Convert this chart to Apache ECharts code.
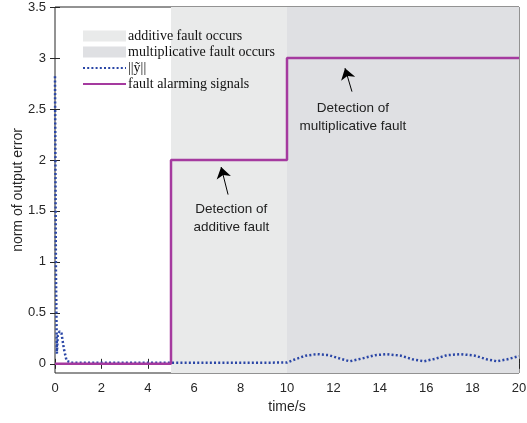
<!DOCTYPE html>
<html>
<head>
<meta charset="utf-8">
<script src="https://cdn.jsdelivr.net/npm/echarts@6/dist/echarts.min.js"></script>
<style>
  html, body { margin: 0; padding: 0; background: #fff; }
  #chart { width: 527px; height: 423px; }
</style>
</head>
<body>
<div id="chart"></div>
<script>
// fault alarming signal (step levels)
const alarmTime = [0, 5, 5, 10, 10, 20];
const alarmLevel = [0, 0, 2, 2, 3, 3];

// norm of output error ||y~||
const errTime = [0, 0.04, 0.08, 0.12, 0.2, 0.28, 0.38, 0.5, 0.7, 5, 10, 10.3, 10.8, 11.3, 11.8, 12.3, 12.7,
  13.2, 13.8, 14.3, 14.9, 15.4, 15.9, 16.4, 16.9, 17.5, 18.1, 18.6, 19.05, 19.5, 20];
const errNorm = [2.82, 0.9, 0.1, 0.28, 0.32, 0.3, 0.15, 0.03, 0.01, 0.01, 0.012, 0.04, 0.08, 0.095, 0.085, 0.05, 0.025,
  0.05, 0.085, 0.095, 0.08, 0.045, 0.025, 0.05, 0.085, 0.095, 0.08, 0.045, 0.025, 0.045, 0.075];

// shaded periods
const additivePeriod = [5, 10];
const multiplicativePeriod = [10, 20];

const yTicks = [0, 0.5, 1, 1.5, 2, 2.5, 3, 3.5];

const axisColor = '#262626';
const sans = 'Liberation Sans';
const serif = 'Liberation Serif';

const chart = echarts.init(document.getElementById('chart'));

function pairs(xs, ys) {
  return xs.map((x, i) => [x, ys[i]]);
}

chart.setOption({
  animation: false,
  grid: {
    left: 55, right: 8, top: 7, bottom: 50,
    outerBoundsMode: 'none',
    show: true, borderColor: axisColor, borderWidth: 1
  },
  legend: {
    orient: 'vertical',
    left: 77,
    top: 24,
    itemWidth: 43,
    itemHeight: 11,
    itemGap: 2,
    textStyle: { fontFamily: serif, fontSize: 14, color: '#111', lineHeight: 12, padding: [0, 0, 0, -3] },
    data: [
      { name: 'additive fault occurs', icon: 'rect' },
      { name: 'multiplicative fault occurs', icon: 'rect' },
      { name: '||ỹ||', itemStyle: { opacity: 0 } },
      { name: 'fault alarming signals', itemStyle: { opacity: 0 } }
    ]
  },
  xAxis: [
    {
      type: 'value', min: 0, max: 20, interval: 2,
      name: 'time/s', nameLocation: 'middle', nameGap: 25,
      nameTextStyle: { fontFamily: sans, fontSize: 14, color: axisColor },
      axisLine: { show: false },
      axisTick: { inside: true, length: 5, lineStyle: { color: axisColor } },
      axisLabel: { fontFamily: sans, fontSize: 13, color: axisColor, margin: 9 },
      splitLine: { show: false }
    },
    {
      type: 'value', min: 0, max: 20, interval: 2, position: 'top',
      axisLine: { show: false },
      axisTick: { inside: true, length: 5, lineStyle: { color: axisColor } },
      axisLabel: { show: false },
      splitLine: { show: false }
    }
  ],
  yAxis: [
    {
      type: 'value', min: -0.09, max: 3.5,
      name: 'norm of output error', nameLocation: 'middle', nameGap: 30,
      nameMoveOverlap: false,
      nameTextStyle: { fontFamily: sans, fontSize: 14, color: axisColor },
      axisLine: { show: false },
      axisTick: { inside: true, length: 5, lineStyle: { color: axisColor }, customValues: yTicks },
      axisLabel: { fontFamily: sans, fontSize: 13, color: axisColor, margin: 9, customValues: yTicks },
      splitLine: { show: false }
    },
    {
      type: 'value', min: -0.09, max: 3.5, position: 'right',
      axisLine: { show: false },
      axisTick: { inside: true, length: 5, lineStyle: { color: axisColor }, customValues: yTicks },
      axisLabel: { show: false, customValues: yTicks },
      splitLine: { show: false }
    }
  ],
  series: [
    {
      name: 'additive fault occurs',
      type: 'line',
      data: [],
      color: '#e9eaea',
      markArea: {
        silent: true,
        itemStyle: { color: '#e9eaea' },
        data: [[{ xAxis: additivePeriod[0] }, { xAxis: additivePeriod[1] }]]
      }
    },
    {
      name: 'multiplicative fault occurs',
      type: 'line',
      data: [],
      color: '#dfe0e3',
      markArea: {
        silent: true,
        itemStyle: { color: '#dfe0e3' },
        data: [[{ xAxis: multiplicativePeriod[0] }, { xAxis: multiplicativePeriod[1] }]]
      }
    },
    {
      name: '||ỹ||',
      type: 'line',
      symbol: 'none',
      color: '#2a46a6',
      lineStyle: { width: 2.5, type: [2, 2.2], color: '#2a46a6' },
      data: pairs(errTime, errNorm)
    },
    {
      name: 'fault alarming signals',
      type: 'line',
      symbol: 'none',
      color: '#a53a9f',
      lineStyle: { width: 2.5, color: '#a53a9f' },
      data: pairs(alarmTime, alarmLevel),
      // annotations: arrows + text
      markLine: {
        silent: true,
        symbol: ['none', 'arrow'],
        symbolSize: 11,
        label: { show: false },
        lineStyle: { color: '#000', width: 1, type: 'solid' },
        itemStyle: { color: '#000' },
        data: [
          [{ coord: [7.46, 1.66] }, { coord: [7.16, 1.93] }],
          [{ coord: [12.8, 2.67] }, { coord: [12.5, 2.9] }]
        ]
      },
      markPoint: {
        silent: true,
        symbol: 'circle',
        symbolSize: 0,
        label: {
          show: true,
          position: 'inside',
          fontFamily: sans,
          fontSize: 13.5,
          color: '#222',
          lineHeight: 18,
          align: 'center'
        },
        data: [
          { coord: [7.6, 1.43], value: 'Detection of\nadditive fault' },
          { coord: [12.84, 2.42], value: 'Detection of\nmultiplicative fault' }
        ]
      }
    }
  ]
});
</script>
</body>
</html>
